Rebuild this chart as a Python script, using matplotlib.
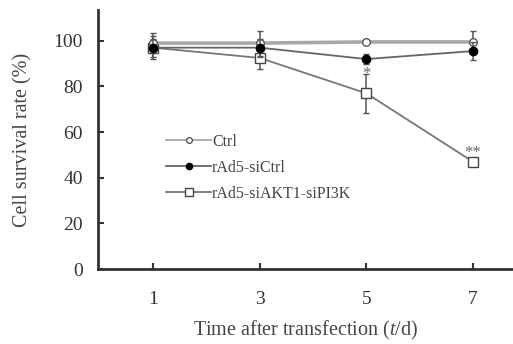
import matplotlib
matplotlib.use("Agg")
import matplotlib.pyplot as plt
from matplotlib.lines import Line2D

days = [1, 3, 5, 7]
ctrl = [99.0, 99.0, 99.5, 99.5]
ctrl_err = [4.5, 5.5, 0.0, 5.0]
sictrl = [97.0, 97.0, 92.0, 95.5]
sictrl_err = [4.0, 4.0, 2.0, 4.0]
siakt = [97.0, 92.5, 77.0, 47.0]
siakt_err = [5.0, 5.0, 8.5, 1.5]
labels = ["Ctrl", "rAd5-siCtrl", "rAd5-siAKT1-siPI3K"]
xticks = [1, 3, 5, 7]
yticks = [0, 20, 40, 60, 80, 100]

plt.rcParams['font.family'] = ['Liberation Serif', 'DejaVu Serif']
plt.rcParams['mathtext.fontset'] = 'custom'
plt.rcParams['mathtext.rm'] = 'Liberation Serif'
plt.rcParams['mathtext.it'] = 'Liberation Serif:italic'

fig = plt.figure(figsize=(5.13, 3.44), dpi=100)
ax = fig.add_axes([98/513, 1 - 269/344, (513 - 98)/513, (269 - 10)/344])

styles = [
    dict(color='#a8a8a8', lw=2.6, marker='o', ms=5.5, mfc='white', mec='#555555', zorder=3),
    dict(color='#666666', lw=1.3, marker='o', ms=6, mfc='black', mec='black', zorder=4),
    dict(color='#777777', lw=1.3, marker='s', ms=7.5, mfc='white', mec='#444444', zorder=2),
]
series = [(ctrl, ctrl_err), (sictrl, sictrl_err), (siakt, siakt_err)]
for (vals, err), st, lab in zip(series, styles, labels):
    ax.errorbar(days, vals, yerr=err, ecolor='#555555', elinewidth=1.1, capsize=2.5,
                label=lab, **st)

ax.text(5, siakt[2] + siakt_err[2] - 3.5, "*", ha='center', va='bottom', fontsize=12, color='#666666')
ax.text(7, siakt[3] + 0.5, "**", ha='center', va='bottom', fontsize=12, color='#666666')

ax.set_xlim(-0.03, 7.75)
ax.set_ylim(0, 113.5)
ax.set_xticks(xticks)
ax.set_yticks(yticks)
ax.tick_params(direction='in', length=4, width=1.5, labelsize=14, colors='#333333')
ax.tick_params(axis='x', pad=16)
ax.tick_params(axis='y', pad=11)
for s in ['top', 'right']:
    ax.spines[s].set_visible(False)
for s in ['left', 'bottom']:
    ax.spines[s].set_linewidth(2)
    ax.spines[s].set_color('#333333')

ax.set_ylabel("Cell survival rate (%)", fontsize=14.5, color='#444444', labelpad=15)
ax.set_xlabel("Time after transfection ($t$/d)", fontsize=14.5, color='#444444', labelpad=8)

handles = [Line2D([], [], **{k: v for k, v in st.items() if k != 'zorder'}) for st in styles]
for h, st in zip(handles, styles):
    h.set_markersize(st['ms'] * 0.75)
    h.set_linewidth(1.3)
leg = ax.legend(handles, labels, loc='upper left', bbox_to_anchor=(0.165, 0.522), frameon=False,
                fontsize=11.5, handlelength=2.8, handletextpad=0.05, labelspacing=0.62,
                borderaxespad=0, borderpad=0)
for t in leg.get_texts():
    t.set_color('#444444')

fig.savefig("out.png", dpi=100)
